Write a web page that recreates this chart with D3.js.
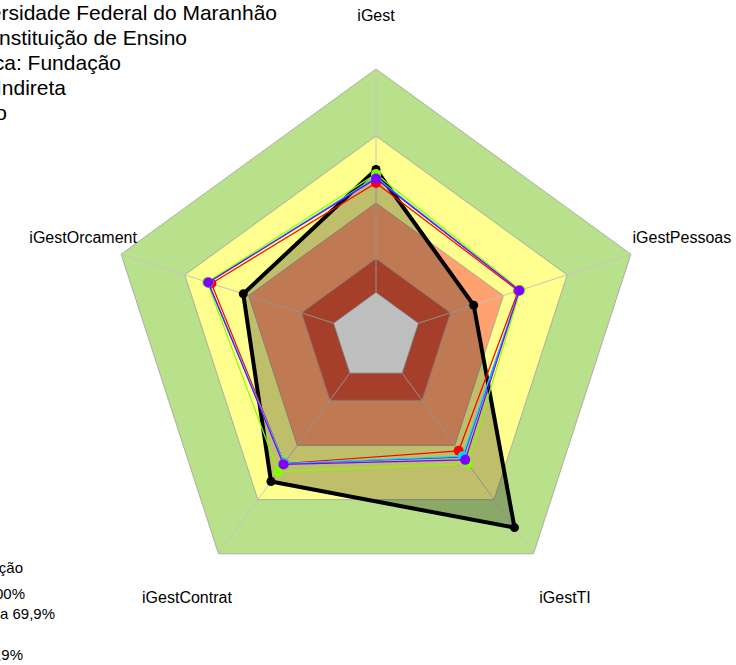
<!DOCTYPE html>
<html>
<head>
<meta charset="utf-8">
<script src="https://cdn.jsdelivr.net/npm/d3@7"></script>
<style>
  body { margin: 0; background: #fff; }
  svg { display: block; font-family: "Liberation Sans", Arial, sans-serif; }
</style>
</head>
<body>
<svg id="radar" width="736" height="665"></svg>
<script>
// axes of the radar
const axes = ["iGest", "iGestPessoas", "iGestTI", "iGestContrat", "iGestOrcament"];

// series values (0..1), same order as axes
const ufma = [0.55, 0.26, 0.855, 0.60, 0.425];
const grpRed = [0.49, 0.47, 0.43, 0.50, 0.575];
const grpBlue = [0.51, 0.475, 0.465, 0.50, 0.59];
const grpCyan = [0.515, 0.475, 0.46, 0.50, 0.588];
const grpGreen = [0.53, 0.48, 0.50, 0.545, 0.595];
const grpPurple = [0.51, 0.475, 0.48, 0.505, 0.59];

// capability bands (upper limit of each level)
const bandLimits = [1.0, 0.7, 0.4, 0.15];

const topLegend = [
  "Universidade Federal do Maranhão",
  "Tipo: Instituição de Ensino",
  "Natureza Jurídica: Fundação",
  "Administração Indireta",
  "Poder Executivo"
];
const levelLegend = [
  "Classificação",
  "Aprimorado: 70 a 100%",
  "Intermediário: 40 a 69,9%",
  "Iniciando: 15 a 39,9%",
  "Inexpressivo: 0 a 14,9%"
];

const bandColors = ["#b9e08b", "#ffff8f", "#ffa26f", "#dc5439"];
const seriesList = [
  { values: grpRed, color: "#ff0000" },
  { values: grpBlue, color: "#1f4dff" },
  { values: grpCyan, color: "#00d8ff" },
  { values: grpGreen, color: "#80ff00" },
  { values: grpPurple, color: "#8000ff" }
];

const svg = d3.select("#radar");
const cx = 376, cy = 337, R = 268;

const r = d3.scaleLinear().domain([0, 1]).range([R / 6, R]);
const angle = d3.scalePoint().domain(axes).range([0, 2 * Math.PI * 4 / 5]);

const radial = d3.lineRadial()
  .angle((d, i) => angle(axes[i]))
  .radius(d => r(d))
  .curve(d3.curveLinearClosed);

function px(v, i) { return r(v) * Math.sin(angle(axes[i])); }
function py(v, i) { return -r(v) * Math.cos(angle(axes[i])); }

const g = svg.append("g").attr("transform", `translate(${cx},${cy})`);

// bands
bandLimits.forEach((lim, k) => {
  g.append("path")
    .attr("d", radial(axes.map(() => lim)))
    .attr("fill", bandColors[k])
    .attr("stroke", "#a0a0a0")
    .attr("stroke-width", 0.8);
});
// empty center
g.append("path")
  .attr("d", radial(axes.map(() => 0)))
  .attr("fill", "#fff")
  .attr("stroke", "#a0a0a0")
  .attr("stroke-width", 0.8);

// axis lines
axes.forEach((a, i) => {
  g.append("line")
    .attr("x1", px(0, i)).attr("y1", py(0, i))
    .attr("x2", px(1, i)).attr("y2", py(1, i))
    .attr("stroke", "#c4c4c4")
    .attr("stroke-width", 1);
});

// main unit: filled polygon
g.append("path")
  .attr("d", radial(ufma))
  .attr("fill", "rgba(0,0,0,0.25)")
  .attr("stroke", "#000")
  .attr("stroke-width", 4)
  .attr("stroke-linejoin", "round");
g.selectAll("circle.ufma").data(ufma).join("circle")
  .attr("class", "ufma")
  .attr("cx", (d, i) => px(d, i))
  .attr("cy", (d, i) => py(d, i))
  .attr("r", 4.5)
  .attr("fill", "#000");

// comparison groups
seriesList.forEach((s, k) => {
  g.append("path")
    .attr("d", radial(s.values))
    .attr("fill", "none")
    .attr("stroke", s.color)
    .attr("stroke-width", 1.2);
  g.selectAll("circle.s" + k).data(s.values).join("circle")
    .attr("class", "s" + k)
    .attr("cx", (d, i) => px(d, i))
    .attr("cy", (d, i) => py(d, i))
    .attr("r", 5)
    .attr("fill", s.color);
});

// axis labels
axes.forEach((a, i) => {
  g.append("text")
    .attr("x", px(1.24, i) + (a === "iGestOrcament" ? 13 : 0))
    .attr("y", py(1.24, i))
    .attr("text-anchor", "middle")
    .attr("dominant-baseline", "central")
    .attr("font-size", 16)
    .text(a);
});

// top-left legend (cut by the page edge)
const topEnds = [277, 187, 121, 66, 7];
svg.selectAll("text.top").data(topLegend).join("text")
  .attr("class", "top")
  .attr("x", (d, i) => topEnds[i])
  .attr("y", (d, i) => 20 + i * 25)
  .attr("text-anchor", "end")
  .attr("font-size", 21)
  .text(d => d);

// bottom-left legend of levels
const lvlEnds = [23, 25, 55, -5, 23];
const lvlY = [573, 599, 619, 639, 660];
svg.selectAll("text.lvl").data(levelLegend).join("text")
  .attr("class", "lvl")
  .attr("x", (d, i) => lvlEnds[i])
  .attr("y", (d, i) => lvlY[i])
  .attr("text-anchor", "end")
  .attr("font-size", 15)
  .text(d => d);
</script>
</body>
</html>
